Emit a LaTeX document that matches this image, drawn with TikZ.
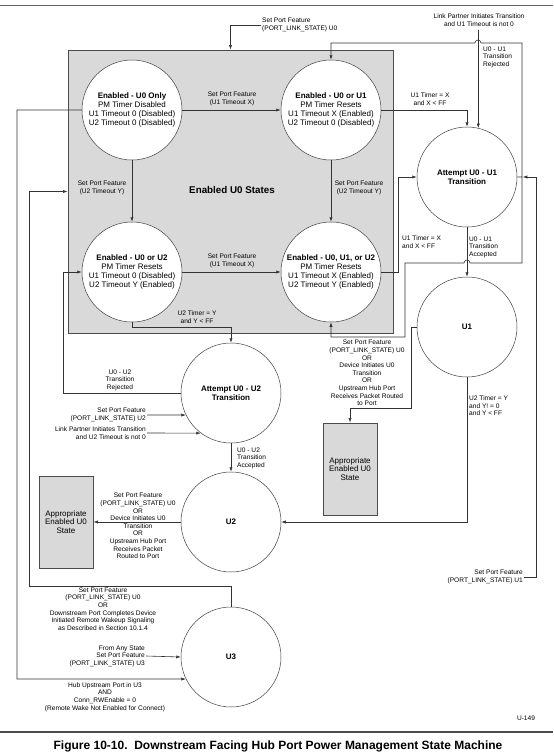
\documentclass[tikz,border=0pt]{standalone}
\usepackage{fontspec}
\setmainfont{Liberation Sans}
\usetikzlibrary{arrows.meta}

\begin{document}
\begin{tikzpicture}[x=1pt,y=-1pt,
  state/.style={circle,draw=black!75,line width=0.5pt,fill=white,minimum size=100pt,inner sep=0pt,align=center,font=\fontsize{8}{8.8}\selectfont},
  lbl/.style={align=center,inner sep=1pt,font=\fontsize{6.6}{7.6}\selectfont},
  arr/.style={draw=black!80,line width=0.6pt,-{Latex[length=4.5pt,width=3.2pt]}},
  greybox/.style={draw=black!70,line width=1pt,fill=black!15,inner sep=0pt}]
  \useasboundingbox (0,0) rectangle (554,755);
  \draw[black!60,line width=1pt] (0,5)--(553,5);
  \node[greybox,minimum width=325pt,minimum height=283pt] (enabled) at (230.5,191.5) {};
  \node[font=\fontsize{9.8}{11}\selectfont\bfseries] (enlbl) at (232,190) {Enabled U0 States};
  \node[state] (u0only) at (132,110) {\textbf{Enabled - U0 Only}\\PM Timer Disabled\\U1 Timeout 0 (Disabled)\\U2 Timeout 0 (Disabled)};
  \node[state] (u0u1) at (331,110) {\textbf{Enabled - U0 or U1}\\PM Timer Resets\\U1 Timeout X (Enabled)\\U2 Timeout 0 (Disabled)};
  \node[state] (u0u2) at (132,272) {\textbf{Enabled - U0 or U2}\\PM Timer Resets\\U1 Timeout 0 (Disabled)\\U2 Timeout Y (Enabled)};
  \node[state] (u0u1u2) at (331,272) {\textbf{Enabled - U0, U1, or U2}\\PM Timer Resets\\U1 Timeout X (Enabled)\\U2 Timeout Y (Enabled)};
  \node[state] (att01) at (467,177) {\textbf{Attempt U0 - U1}\\\textbf{Transition}};
  \node[state] (u1) at (467,327) {\textbf{U1}};
  \node[state] (att02) at (231,393) {\textbf{Attempt U0 - U2}\\\textbf{Transition}};
  \node[state] (u2) at (231,522) {\textbf{U2}};
  \node[state] (u3) at (231,657) {\textbf{U3}};
  \node[greybox,line width=0.8pt,minimum width=54pt,minimum height=92pt,align=center,font=\fontsize{8}{8.4}\selectfont] (boxL) at (66,522) {Appropriate\\Enabled U0\\State};
  \node[greybox,line width=0.8pt,minimum width=54pt,minimum height=92pt,align=center,font=\fontsize{8}{8.4}\selectfont] (boxR) at (350,469) {Appropriate\\Enabled U0\\State};
  \node[lbl,align=left,anchor=west] (topU0) at (261,25) {Set Port Feature\\(PORT\_LINK\_STATE) U0};
  \node[lbl] (lnk01) at (479,20) {Link Partner Initiates Transition\\and U1 Timeout is not 0};
  \node[lbl,align=left,anchor=west] (rej01) at (482,57) {U0 - U1\\Transition\\Rejected};
  \node[lbl] (u1x) at (232,99) {Set Port Feature\\(U1 Timeout X)};
  \node[lbl] (u1tim) at (430,99) {U1 Timer = X\\and X < FF};
  \node[lbl] (u2yL) at (102,188) {Set Port Feature\\(U2 Timeout Y)};
  \node[lbl] (u2yR) at (359,188) {Set Port Feature\\(U2 Timeout Y)};
  \node[lbl,align=left,anchor=west] (u1tim2) at (401,242) {U1 Timer = X\\and X < FF};
  \node[lbl,align=left,anchor=west] (acc01) at (468,247) {U0 - U1\\Transition\\Accepted};
  \node[lbl] (u1xlow) at (232,261) {Set Port Feature\\(U1 Timeout X)};
  \node[lbl] (u2tim) at (197,317) {U2 Timer = Y\\and Y < FF};
  \node[lbl] (u1back) at (367,373) {Set Port Feature\\(PORT\_LINK\_STATE) U0\\OR\\Device Initiates U0\\Transition\\OR\\Upstream Hub Port\\Receives Packet Routed\\to Port};
  \node[lbl] (rej02) at (120,380) {U0 - U2\\Transition\\Rejected};
  \node[lbl,align=left,anchor=west] (u2tim2) at (468,406) {U2 Timer = Y\\and Y! = 0\\and Y < FF};
  \node[lbl,align=right,anchor=east] (setU2) at (147,415) {Set Port Feature\\(PORT\_LINK\_STATE) U2};
  \node[lbl,align=right,anchor=east] (lnk02) at (147,433) {Link Partner Initiates Transition\\and U2 Timeout is not 0};
  \node[lbl,align=left,anchor=west] (acc02) at (236,458) {U0 - U2\\Transition\\Accepted};
  \node[lbl] (u2back) at (138,526) {Set Port Feature\\(PORT\_LINK\_STATE) U0\\OR\\Device Initiates U0\\Transition\\OR\\Upstream Hub Port\\Receives Packet\\Routed to Port};
  \node[lbl,align=right,anchor=east] (setU1) at (524,577) {Set Port Feature\\(PORT\_LINK\_STATE) U1};
  \node[lbl] (u3back) at (103,609) {Set Port Feature\\(PORT\_LINK\_STATE) U0\\OR\\Downstream Port Completes Device\\Initiated Remote Wakeup Signaling\\as Described in Section 10.1.4};
  \node[lbl,align=right,anchor=east] (anyU3) at (146,656) {From Any State\\Set Port Feature\\(PORT\_LINK\_STATE) U3};
  \node[lbl] (hubU3) at (105,697) {Hub Upstream Port in U3\\AND\\Conn\_RWEnable = 0\\(Remote Wake Not Enabled for Connect)};
  \node[lbl] (code) at (526,718) {U-149};
  \coordinate (rj) at (522,177);
  \draw[arr] (topU0.west) -| (enabled.north);
  \draw[arr] (u0only.east) -- (u0u1.west);
  \draw[arr] (u0only.south) -- (u0u2.north);
  \draw[arr] (u0u1.south) -- (u0u1u2.north);
  \draw[arr] (u0u2.east) -- (u0u1u2.west);
  \draw[arr] (u0u1.east) -| (att01.north);
  \draw[arr,shorten <=3pt] (lnk01.south -| att01.77) -- (att01.77);
  \draw[arr] (att01.east) -- (rj) -- (522,43) -- (481,43) arc[start angle=0,end angle=180,radius=3pt] -- (331,43) -- (u0u1.north);
  \draw[arr] (rj) -- (522,263) -- (470,263) arc[start angle=0,end angle=180,radius=3pt] -- (405,263) -- (405,337) -- (331,337) -- (u0u1u2.south);
  \draw[arr] (u0u1u2.east) -- (398,272) |- (att01.west);
  \draw[arr] (att01.south) -- (u1.north);
  \draw[arr] (u1.west) -| (411,408) -| (boxR.north);
  \draw[arr] (u1.south) |- (u2.east);
  \draw[arr,shorten >=5.5pt] (setU1.east) -| (536,177) -- (att01.east);
  \draw[arr] (u0u2.south) -- (132,327) -| (att02.north);
  \draw[arr] (att02.west) -- (63,393) |- (u0u2.west);
  \draw[arr] (setU2.east) -- (att02.206);
  \draw[arr] (lnk02.east) -- (att02.233);
  \draw[arr] (att02.south) -- (u2.north);
  \draw[arr] (u2.west) -- (boxL.east);
  \draw[arr] (u3.north) |- (29,586) |- (enabled.west);
  \draw[arr] (anyU3.east) -- (u3.west);
  \draw[arr] (u0only.west) -| (17,679) -- (u3.206);
  \draw[black!70,line width=1.5pt] (0,732)--(553,732);
  \node[font=\fontsize{12}{14}\selectfont\bfseries] (title) at (278,746) {Figure 10-10.\ \ Downstream Facing Hub Port Power Management State Machine};
\end{tikzpicture}
\end{document}
